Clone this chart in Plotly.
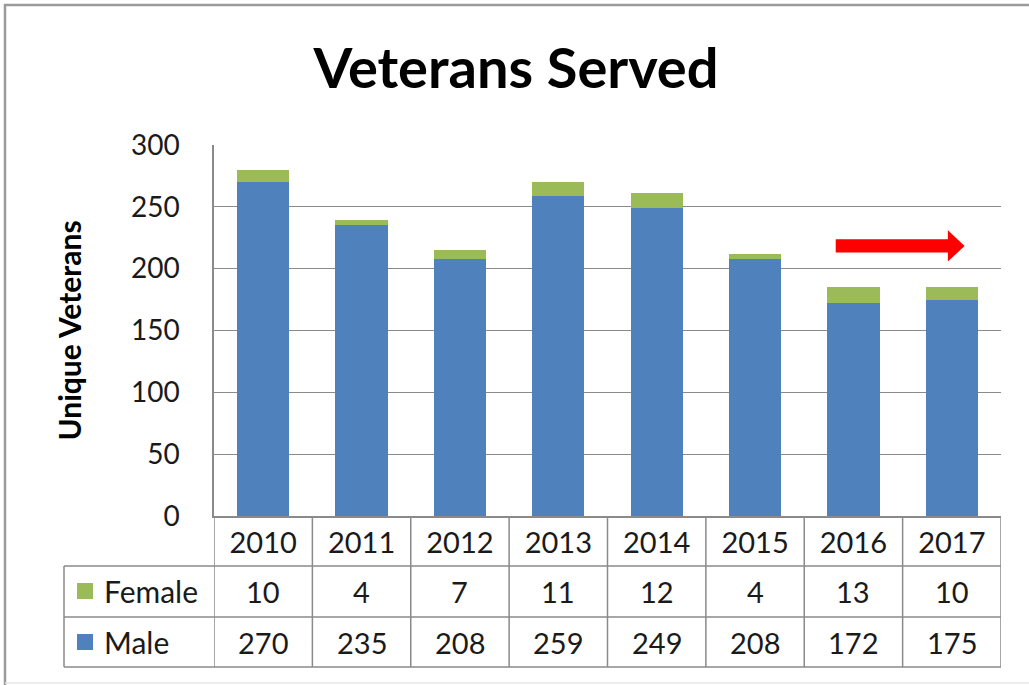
import plotly.graph_objects as go

years = ["2010", "2011", "2012", "2013", "2014", "2015", "2016", "2017"]
female = [10, 4, 7, 11, 12, 4, 13, 10]
male = [270, 235, 208, 259, 249, 208, 172, 175]
series_names = ["Female", "Male"]
y_ticks = [0, 50, 100, 150, 200, 250, 300]

W, H = 1029, 685
L, R, T, B = 214, 28, 145, 169
PH = H - T - B  # plot height px
PW = W - L - R

MALE_C = "#4F81BD"
FEMALE_C = "#9BBB59"
GRID_C = "#8a8a8a"
FONT = "Lato"
TXT = "#1a1a1a"


def py(px):  # pixel y -> paper y
    return (H - B - px) / PH


def pxx(px):  # pixel x -> paper x
    return (px - L) / PW


fig = go.Figure()
fig.add_trace(go.Bar(x=years, y=male, name=series_names[1], marker=dict(color=MALE_C, line=dict(width=0))))
fig.add_trace(go.Bar(x=years, y=female, name=series_names[0], marker=dict(color=FEMALE_C, line=dict(width=0))))

shapes = []
annotations = []

# Table grid: horizontal lines
for ypx, x0 in [(566, 64), (617, 64), (667, 64)]:
    shapes.append(dict(type="line", xref="paper", yref="paper", x0=pxx(x0), x1=1, y0=py(ypx), y1=py(ypx),
                       line=dict(color=GRID_C, width=1.5)))
# vertical lines at category boundaries
for i in range(len(years) + 1):
    shapes.append(dict(type="line", xref="x", yref="paper", x0=i - 0.5, x1=i - 0.5, y0=0, y1=py(667),
                       line=dict(color=GRID_C, width=1.5)))
# left edge of label column
shapes.append(dict(type="line", xref="paper", yref="paper", x0=pxx(64), x1=pxx(64), y0=py(566), y1=py(667),
                   line=dict(color=GRID_C, width=1.5)))

# Rows: legend keys + labels + values
row_centers = {"Female": 591, "Male": 642}
row_values = {"Female": female, "Male": male}
row_colors = {"Female": FEMALE_C, "Male": MALE_C}
for name in series_names:
    yc = row_centers[name]
    shapes.append(dict(type="rect", xref="paper", yref="paper", x0=pxx(77), x1=pxx(93), y0=py(yc - 8), y1=py(yc + 8),
                       fillcolor=row_colors[name], line=dict(width=0)))
    annotations.append(dict(text=name, xref="paper", yref="paper", x=pxx(102), y=py(yc), xanchor="left",
                            yanchor="middle", showarrow=False, font=dict(family=FONT, size=30, color=TXT)))
    for i, v in enumerate(row_values[name]):
        annotations.append(dict(text=str(v), xref="x", yref="paper", x=i, y=py(yc), xanchor="center",
                                yanchor="middle", showarrow=False, font=dict(family=FONT, size=29, color=TXT)))

# Red arrow
shapes.append(dict(type="path", xref="x", yref="y",
                   path="M 5.82,213.1 L 6.96,213.1 L 6.96,205.8 L 7.13,218.4 L 6.96,231 L 6.96,223.7 L 5.82,223.7 Z",
                   fillcolor="#FF0000", line=dict(width=0)))

# Outer chart border
shapes.append(dict(type="line", xref="paper", yref="paper", x0=pxx(5), x1=pxx(5), y0=py(4), y1=py(685),
                   line=dict(color="#9a9a9a", width=2.5)))
shapes.append(dict(type="line", xref="paper", yref="paper", x0=pxx(4), x1=pxx(1040), y0=py(5), y1=py(5),
                   line=dict(color="#9a9a9a", width=2.5)))
shapes.append(dict(type="line", xref="paper", yref="paper", x0=pxx(5), x1=pxx(1040), y0=py(683), y1=py(683),
                   line=dict(color="#e6e6e6", width=1.5)))

fig.update_layout(
    width=W, height=H,
    margin=dict(l=L, r=R, t=T, b=B, autoexpand=False),
    paper_bgcolor="white", plot_bgcolor="white",
    barmode="stack", bargap=0.47, showlegend=False,
    title=dict(text="<b>Veterans Served</b>", x=pxx(516), xref="paper", xanchor="center",
               y=1 - 68 / H, yanchor="middle",
               font=dict(family=FONT, size=56, color="#000000")),
    font=dict(family=FONT, color=TXT),
    shapes=shapes, annotations=annotations,
)
fig.update_xaxes(type="category", categoryorder="array", categoryarray=years, range=[-0.5, len(years) - 0.5],
                 autorange=False, showgrid=False, showline=True, linecolor=GRID_C, linewidth=1.5,
                 ticks="", tickfont=dict(family=FONT, size=29, color=TXT), ticklabelstandoff=0)
fig.update_yaxes(range=[0, 300], tickvals=y_ticks, showgrid=True, gridcolor=GRID_C, gridwidth=1,
                 showline=True, linecolor=GRID_C, linewidth=1.5, zeroline=False, mirror=False,
                 ticks="", tickfont=dict(family=FONT, size=28, color=TXT), ticklabelstandoff=27,
                 title=dict(text="<b>Unique Veterans</b>", font=dict(family=FONT, size=30, color="#000000"),
                            standoff=40))

fig.write_html("out.html", config={"displayModeBar": False},
               post_script="document.body.style.margin='0px';")
